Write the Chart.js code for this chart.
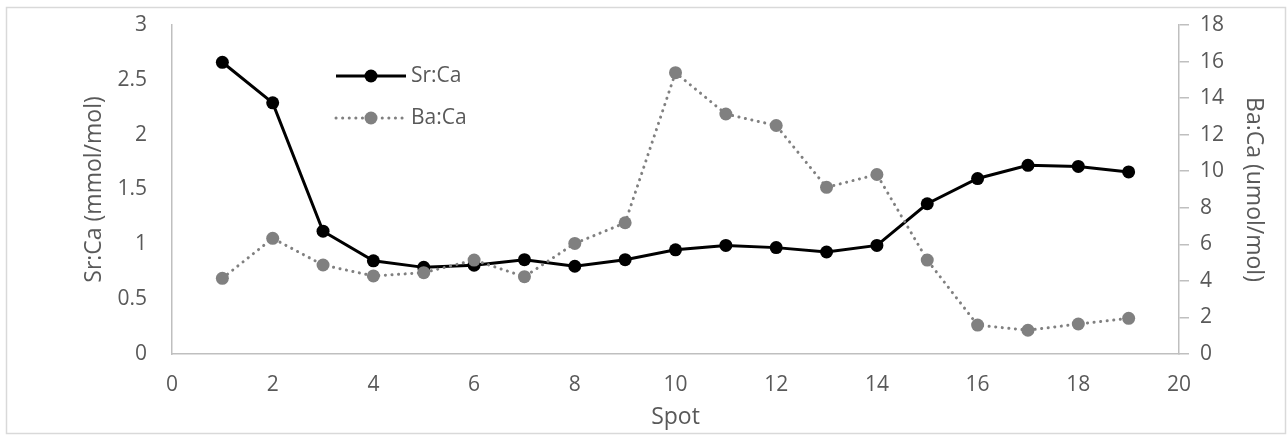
<!DOCTYPE html>
<html>
<head>
<meta charset="utf-8">
<script src="https://cdn.jsdelivr.net/npm/chart.js@4.4.1/dist/chart.umd.min.js"></script>
<style>
  html, body { margin: 0; padding: 0; background: #ffffff; }
  #wrap { width: 1288px; height: 435px; position: relative; }
</style>
</head>
<body>
<div id="wrap"><canvas id="c" width="1288" height="435"></canvas></div>
<script>
// ---- data ----
const spots = [1, 2, 3, 4, 5, 6, 7, 8, 9, 10, 11, 12, 13, 14, 15, 16, 17, 18, 19];
const srCa = [2.66, 2.29, 1.12, 0.85, 0.79, 0.81, 0.86, 0.80, 0.86, 0.95, 0.99, 0.97, 0.93, 0.99, 1.37, 1.60, 1.72, 1.71, 1.66];
const baCa = [4.14, 6.33, 4.87, 4.27, 4.45, 5.14, 4.23, 6.05, 7.18, 15.39, 13.13, 12.50, 9.12, 9.82, 5.14, 1.58, 1.30, 1.64, 1.95];
const srLabel = 'Sr:Ca';
const baLabel = 'Ba:Ca';
const xTitle = 'Spot';
const yLeftTitle = 'Sr:Ca (mmol/mol)';
const yRightTitle = 'Ba:Ca (umol/mol)';

const FONT = "'Open Sans', 'DejaVu Sans', sans-serif";
const TEXT = '#595959';
const AXIS = '#bfbfbf';
const TICK_SIZE = 21;
const TITLE_SIZE = 23;

const toPoints = (xs, ys) => xs.map((x, i) => ({ x: x, y: ys[i] }));
const plainNum = (v) => String(Math.round(v * 100) / 100);

const framePlugin = {
  id: 'frame',
  beforeDraw(chart) {
    const c = chart.ctx;
    c.save();
    c.fillStyle = '#ffffff';
    c.fillRect(0, 0, chart.width, chart.height);
    c.strokeStyle = '#d9d9d9';
    c.lineWidth = 1.5;
    c.strokeRect(6.5, 7.5, 1279, 426);
    c.restore();
  },
  afterDatasetsDraw(chart) {
    const c = chart.ctx;
    const rows = [0, 1];
    c.save();
    rows.forEach((di, r) => {
      const ds = chart.data.datasets[di];
      const y = 76 + r * 42;
      c.beginPath();
      c.strokeStyle = ds.borderColor;
      c.lineWidth = ds.borderWidth;
      c.lineCap = ds.borderCapStyle || 'butt';
      c.setLineDash(ds.borderDash || []);
      c.moveTo(336, y);
      c.lineTo(406, y);
      c.stroke();
      c.setLineDash([]);
      c.beginPath();
      c.fillStyle = ds.pointBackgroundColor;
      c.arc(371, y, ds.pointRadius, 0, Math.PI * 2);
      c.fill();
      c.fillStyle = TEXT;
      c.font = TICK_SIZE + 'px ' + FONT;
      c.textBaseline = 'middle';
      c.textAlign = 'left';
      c.fillText(ds.label, 411, y);
    });
    c.restore();
  }
};

new Chart(document.getElementById('c'), {
  type: 'line',
  data: {
    datasets: [
      {
        label: srLabel,
        data: toPoints(spots, srCa),
        yAxisID: 'y',
        borderColor: '#000000',
        backgroundColor: '#000000',
        pointBackgroundColor: '#000000',
        pointBorderColor: '#000000',
        borderWidth: 3,
        pointRadius: 6.5,
        pointBorderWidth: 0,
        tension: 0,
        order: 2
      },
      {
        label: baLabel,
        data: toPoints(spots, baCa),
        yAxisID: 'y1',
        borderColor: '#808080',
        backgroundColor: '#808080',
        pointBackgroundColor: '#808080',
        pointBorderColor: '#808080',
        borderWidth: 3,
        borderDash: [0.1, 6.5],
        borderCapStyle: 'round',
        pointRadius: 6.5,
        pointBorderWidth: 0,
        tension: 0,
        order: 1
      }
    ]
  },
  options: {
    responsive: false,
    animation: false,
    devicePixelRatio: 1,
    layout: { padding: { top: 25, left: 0, right: 0, bottom: 0 } },
    plugins: { legend: { display: false }, tooltip: { enabled: false } },
    scales: {
      x: {
        type: 'linear',
        position: 'bottom',
        min: 0, max: 20,
        ticks: { stepSize: 2, color: TEXT, font: { family: FONT, size: TICK_SIZE }, padding: 18, callback: plainNum },
        grid: { display: false, drawTicks: false },
        border: { display: true, color: AXIS, width: 1.5 },
        title: { display: true, text: xTitle, color: TEXT, font: { family: FONT, size: TITLE_SIZE }, padding: { top: 0, bottom: 4 } },
        afterFit(s) { s.height = 81; }
      },
      y: {
        type: 'linear',
        position: 'left',
        min: 0, max: 3,
        ticks: { stepSize: 0.5, color: TEXT, font: { family: FONT, size: TICK_SIZE }, padding: 11, callback: plainNum },
        grid: { display: true, drawOnChartArea: false, drawTicks: true, tickLength: 14, color: 'rgba(0,0,0,0)' },
        border: { display: true, color: AXIS, width: 1.5 },
        title: { display: true, text: yLeftTitle, color: TEXT, font: { family: FONT, size: TITLE_SIZE }, padding: { top: 81, bottom: 0 } },
        afterFit(s) { s.width = 172; }
      },
      y1: {
        type: 'linear',
        position: 'right',
        min: 0, max: 18,
        ticks: { stepSize: 2, color: TEXT, font: { family: FONT, size: TICK_SIZE }, padding: 11, callback: plainNum },
        grid: { display: true, drawOnChartArea: false, drawTicks: true, tickLength: 10, color: AXIS, lineWidth: 1.5 },
        border: { display: true, color: AXIS, width: 1.5 },
        title: { display: true, text: yRightTitle, color: TEXT, font: { family: FONT, size: TITLE_SIZE }, padding: { top: 21, bottom: 0 } },
        afterFit(s) { s.width = 109; }
      }
    }
  },
  plugins: [framePlugin]
});
</script>
</body>
</html>
